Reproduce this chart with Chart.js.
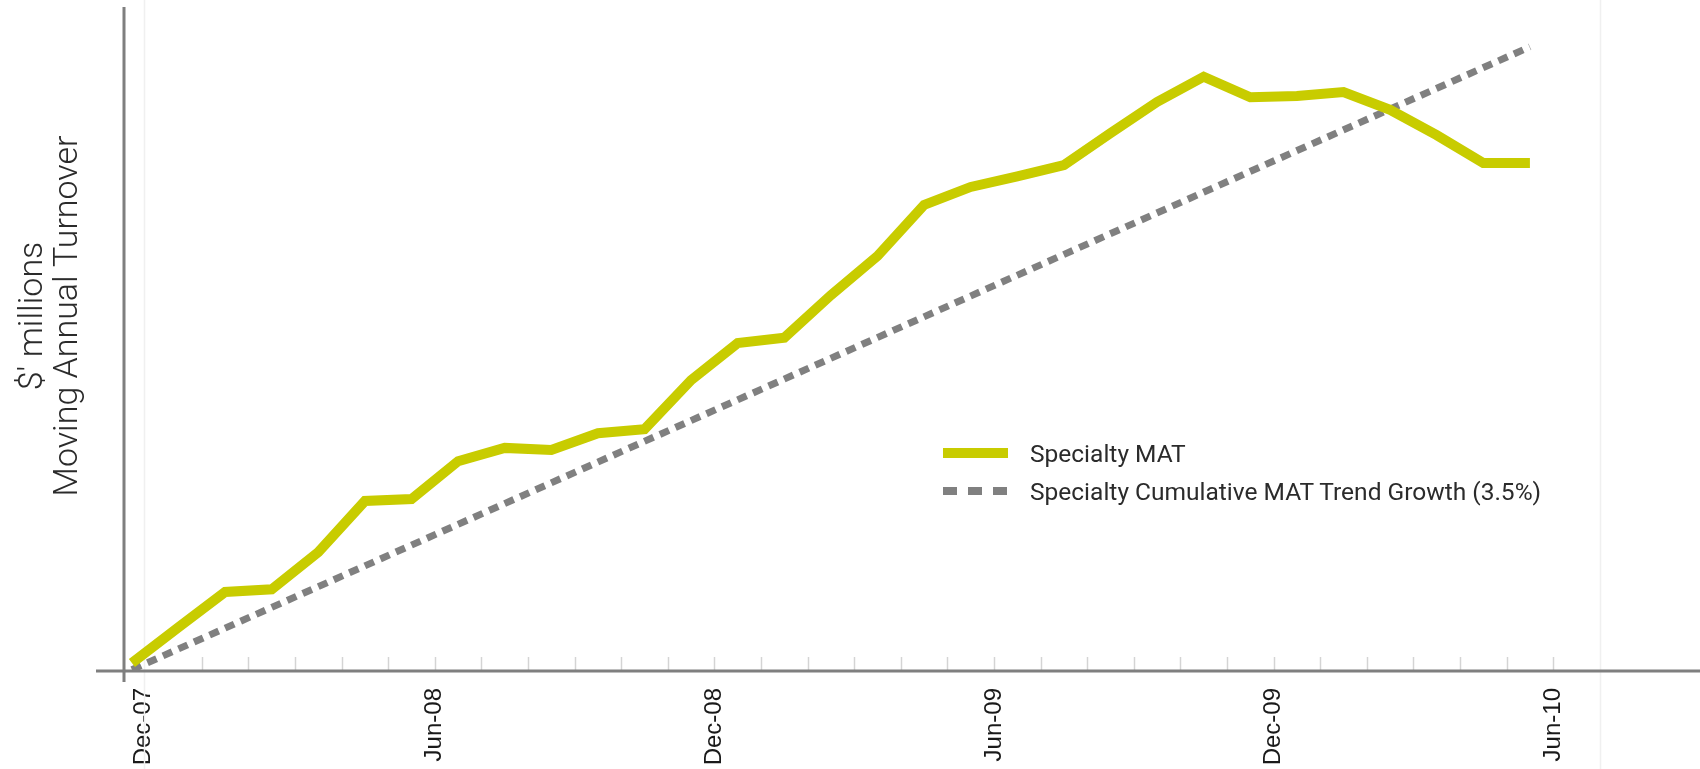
<!DOCTYPE html>
<html>
<head>
<meta charset="utf-8">
<script src="https://cdn.jsdelivr.net/npm/chart.js@4.4.1/dist/chart.umd.min.js"></script>
<style>
    html, body { margin: 0; padding: 0; background: #fff; }
    #wrap { position: relative; width: 1700px; height: 769px; }
    #legend {
        position: absolute; left: 943px; top: 434px;
        font-family: Roboto, "Liberation Sans", sans-serif; font-size: 24.5px; color: #2b2b2b;
    }
    .row { display: flex; align-items: center; height: 38px; white-space: nowrap; }
    .swatch { width: 65px; height: 10px; margin-right: 22px; }
</style>
</head>
<body>
<div id="wrap">
    <canvas id="matChart" width="1700" height="769"></canvas>
    <div id="legend"></div>
</div>
<script>
// Monthly categories, Dec-07 .. Jun-10
const months = ['Dec-07', 'Jan-08', 'Feb-08', 'Mar-08', 'Apr-08', 'May-08', 'Jun-08', 'Jul-08', 'Aug-08',
    'Sep-08', 'Oct-08', 'Nov-08', 'Dec-08', 'Jan-09', 'Feb-09', 'Mar-09', 'Apr-09', 'May-09', 'Jun-09',
    'Jul-09', 'Aug-09', 'Sep-09', 'Oct-09', 'Nov-09', 'Dec-09', 'Jan-10', 'Feb-10', 'Mar-10', 'Apr-10',
    'May-10', 'Jun-10'];

// Specialty MAT (relative units, axis has no value labels)
const specialtyMat = [1.2, 6.6, 11.9, 12.3, 17.9, 25.6, 25.9, 31.6, 33.6, 33.3, 35.8, 36.4, 43.8, 49.4,
    50.2, 56.6, 62.5, 70.2, 72.9, 74.5, 76.2, 81.0, 85.7, 89.5, 86.4, 86.6, 87.2, 84.5, 80.7, 76.5, 76.5];

// Trend line: first and last month only (straight line)
const trendMonths = [0, 30];
const trendValues = [0.2, 94.0];

// Label every 6th month
const labelStep = 6;

const yTitle = ["$' millions", 'Moving Annual Turnover'];

const yellow = '#c8cc00';
const grey = '#808080';

// Draws the axis lines, month tick marks, faint plot edges and the y title
const frame = {
    id: 'frame',
    beforeDatasetsDraw(chart) {
        const { ctx, chartArea: a, scales: { x } } = chart;
        const line = (x1, y1, x2, y2) => {
            ctx.beginPath(); ctx.moveTo(x1, y1); ctx.lineTo(x2, y2); ctx.stroke();
        };
        ctx.save();
        // faint plot area edges
        ctx.strokeStyle = '#f0f0f0';
        ctx.lineWidth = 1.5;
        [x.ticks[0].value, 31.5].forEach(v => {
            const px = Math.round(x.getPixelForValue(v)) + 0.5;
            line(px, 0, px, chart.height);
        });
        // month tick marks (inside the plot)
        ctx.strokeStyle = '#d4d4d4';
        ctx.lineWidth = 1.5;
        x.ticks.slice(1).forEach(t => {
            const px = Math.round(x.getPixelForValue(t.value)) + 0.5;
            line(px, a.bottom - 14, px, a.bottom);
        });
        // axes
        ctx.strokeStyle = '#7f7f7f';
        ctx.lineWidth = 3;
        line(96, a.bottom, chart.width, a.bottom);
        line(a.left, a.top, a.left, a.bottom + 11);
        ctx.restore();
    },
    afterDraw(chart) {
        const ctx = chart.ctx;
        ctx.save();
        ctx.fillStyle = '#2b2b2b';
        ctx.font = '300 34px Roboto, "Liberation Sans", sans-serif';
        ctx.textAlign = 'center';
        ctx.textBaseline = 'middle';
        [33, 68].forEach((cx, i) => {
            ctx.save();
            ctx.translate(cx, 316);
            ctx.rotate(-Math.PI / 2);
            ctx.fillText(yTitle[i], 0, 0);
            ctx.restore();
        });
        ctx.restore();
    }
};

const ctx = document.getElementById('matChart').getContext('2d');

const matChart = new Chart(ctx, {
    type: 'line',
    data: {
        datasets: [
            {
                label: 'Specialty MAT',
                data: specialtyMat.map((v, i) => ({ x: i, y: v })),
                borderColor: yellow,
                backgroundColor: yellow,
                borderWidth: 10,
                borderJoinStyle: 'miter',
                pointRadius: 0,
                tension: 0
            },
            {
                label: 'Specialty Cumulative MAT Trend Growth (3.5%)',
                data: trendMonths.map((m, i) => ({ x: m, y: trendValues[i] })),
                borderColor: grey,
                backgroundColor: grey,
                borderWidth: 7,
                borderDash: [10, 7],
                pointRadius: 0,
                tension: 0
            }
        ]
    },
    options: {
        responsive: false,
        animation: false,
        events: [],
        layout: { padding: { left: 124, top: 7, right: 0, bottom: 0 } },
        scales: {
            x: {
                type: 'linear',
                min: -0.17,
                max: 33.65,
                grid: { display: false, drawTicks: false },
                border: { display: false },
                afterBuildTicks: (scale) => {
                    // tick marks sit between months; the first sits on the plot edge
                    scale.ticks = months.map((m, i) => ({ value: i === 0 ? 0.25 : i + 0.5 }));
                },
                afterFit: (scale) => { scale.height = 98; },
                ticks: {
                    autoSkip: false,
                    minRotation: 90,
                    maxRotation: 90,
                    padding: 17,
                    color: '#1a1a1a',
                    font: { family: '"Liberation Sans", Arial, sans-serif', size: 24 },
                    callback: (value, index) => index % labelStep === 0 ? months[index] : ''
                }
            },
            y: {
                display: false,
                min: 0,
                max: 100
            }
        },
        plugins: {
            legend: { display: false },
            tooltip: { enabled: false }
        }
    },
    plugins: [frame]
});

// HTML legend built from the datasets
const legend = document.getElementById('legend');
matChart.data.datasets.forEach((ds, i) => {
    const row = document.createElement('div');
    row.className = 'row';
    const sw = document.createElement('span');
    sw.className = 'swatch';
    if (i === 0) {
        sw.style.background = ds.borderColor;
    } else {
        sw.style.height = '8px';
        sw.style.background = 'repeating-linear-gradient(to right, ' + ds.borderColor +
            ' 0 14px, transparent 14px 25px)';
    }
    const txt = document.createElement('span');
    txt.textContent = ds.label;
    row.appendChild(sw);
    row.appendChild(txt);
    legend.appendChild(row);
});
</script>
</body>
</html>
